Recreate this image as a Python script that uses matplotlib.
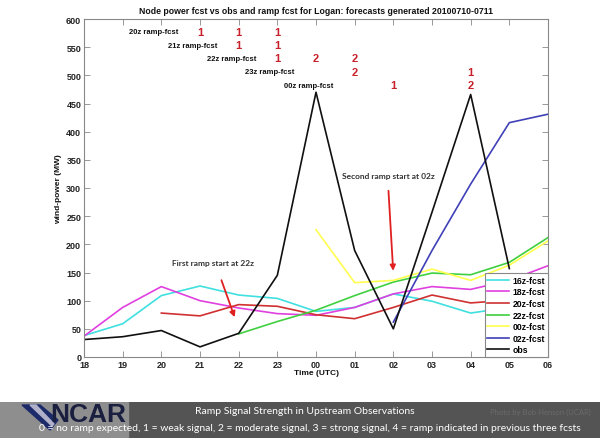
import numpy as np
import matplotlib
matplotlib.use("Agg")
import matplotlib.pyplot as plt
from matplotlib.patches import Rectangle, Polygon

plt.rcParams['font.family'] = ['Liberation Sans', 'DejaVu Sans']

# ---------------- data ----------------
hour_labels = ['18', '19', '20', '21', '22', '23', '00', '01', '02', '03', '04', '05', '06']
hours = np.arange(18, 31)

obs_vals   = [31, 36, 47, 18, 42, 145, 470, 189, 50, 257, 466, 157]                 # 18..05
f16_vals   = [38, 59, 109, 126, 110, 104, 81, 88, 112, 99, 78, 88]                 # 18..05
f18_vals   = [37, 88, 125, 100, 87, 77, 74, 88, 112, 125, 120, 136, 162]           # 18..06
f20_vals   = [78, 73, 93, 90, 75, 68, 88, 110, 96, 101]                            # 20..05
f22_vals   = [41, 63, 83, 109, 133, 149, 146, 168, 212]                            # 22..06
f00_vals   = [226, 132, 136, 156, 136, 163, 206]                                   # 00..06
f02_vals   = [62, 189, 307, 416, 431]                                              # 02..06

series = [
    ('16z-fcst', 18, f16_vals, '#40e0e0'),
    ('18z-fcst', 18, f18_vals, '#e040e0'),
    ('20z-fcst', 20, f20_vals, '#d03030'),
    ('22z-fcst', 22, f22_vals, '#40d040'),
    ('00z-fcst', 24, f00_vals, '#ffff50'),
    ('02z-fcst', 26, f02_vals, '#4040b8'),
    ('obs',      18, obs_vals, '#101010'),
]

ramp_names = ['20z ramp-fcst', '21z ramp-fcst', '22z ramp-fcst', '23z ramp-fcst', '00z ramp-fcst']
ramp_label_x = [20.45, 21.45, 22.45, 23.45, 24.45]
ramp_y = [577, 553, 530, 506, 482]
ramp_hours = [[21, 22, 23], [22, 23], [23, 24, 25], [25, 28], [26, 28]]
ramp_vals = [['1', '1', '1'], ['1', '1'], ['1', '2', '2'], ['2', '1'], ['1', '2']]

# ---------------- figure ----------------
fig = plt.figure(figsize=(6.0, 4.39), dpi=100)
fig.patch.set_facecolor('white')
ax = fig.add_axes([84/600, 1-358/439, 464/600, 338/439])

for name, start, vals, col in series:
    x = np.arange(start, start + len(vals))
    ax.plot(x, vals, color=col, lw=1.2, label=name)

ax.set_xlim(18, 30)
ax.set_ylim(0, 600)
ax.set_xticks(hours)
ax.set_xticklabels(hour_labels)
ax.set_yticks(np.arange(0, 601, 50))
ax.tick_params(direction='in', top=True, right=True, length=4, width=0.6,
               labelsize=6.5, colors='#888888', labelcolor='#222222', pad=2)
for lbl in ax.get_xticklabels() + ax.get_yticklabels():
    lbl.set_fontweight('bold')
for sp in ax.spines.values():
    sp.set_color('#888888')
    sp.set_linewidth(0.8)

ax.set_title('Node power fcst vs obs and ramp fcst for Logan: forecasts generated 20100710-0711',
             fontsize=6.3, fontweight='bold', pad=4, color='#111111')
ax.set_xlabel('Time (UTC)', fontsize=6, fontweight='bold', labelpad=0, color='#111111')
ax.set_ylabel('wind-power (MW)', fontsize=6, fontweight='bold', labelpad=3, color='#111111')

# ramp forecast rows
for name, lx, ly, hs, vs in zip(ramp_names, ramp_label_x, ramp_y, ramp_hours, ramp_vals):
    ax.text(lx, ly, name, fontsize=5.5, fontweight='bold', ha='right', va='center', color='#111111')
    for h, v in zip(hs, vs):
        ax.text(h, ly, v, fontsize=8, fontweight='bold', ha='center', va='center', color='#c8202a')

# annotations
ax.annotate('', xy=(21.92, 66), xytext=(21.53, 141),
            arrowprops=dict(arrowstyle='-|>', color='#e02020', lw=1.3, mutation_scale=8))
ax.text(20.27, 167, 'First ramp start at 22z', fontsize=6, fontweight='bold',
        family=['Lato', 'DejaVu Sans'], color='#333333', ha='left', va='center')
ax.annotate('', xy=(26.0, 148), xytext=(25.87, 300),
            arrowprops=dict(arrowstyle='-|>', color='#e02020', lw=1.3, mutation_scale=8))
ax.text(24.66, 323, 'Second ramp start at 02z', fontsize=6, fontweight='bold',
        family=['Lato', 'DejaVu Sans'], color='#333333', ha='left', va='center')

leg = ax.legend(loc='lower right', borderaxespad=0, frameon=True,
                fancybox=False, framealpha=1, edgecolor='#888888', handlelength=2.6,
                handletextpad=0.4, labelspacing=0.3, borderpad=0.3,
                prop={'weight': 'bold', 'size': 6.2})
leg.get_frame().set_linewidth(0.8)

# ---------------- bottom banner ----------------
bax = fig.add_axes([0, 0, 1, 36/439])
bax.set_xlim(0, 600)
bax.set_ylim(0, 36)
bax.axis('off')
bax.add_patch(Rectangle((0, 0), 600, 36, color='#545454'))
bax.add_patch(Rectangle((0, 0), 128, 36, color='#8e8e8e'))
bax.add_patch(Polygon([[22, 33], [40, 33], [58, 18], [50, 8]], closed=True, color='#1c2a6a'))
bax.add_patch(Polygon([[30, 33], [36, 33], [54, 14], [52, 12]], closed=True, color='#b0b0c8'))
bax.text(88, 24, 'NCAR', fontsize=19, fontweight='bold', color='#1a1f40', ha='center', va='center')
bax.text(305, 27, 'Ramp Signal Strength in Upstream Observations', fontsize=7.5,
         family=['Lato', 'DejaVu Sans'], color='white', ha='center', va='center')
bax.text(540, 27, 'Photo by Bob Henson (UCAR)', fontsize=5.5,
         family=['Lato', 'DejaVu Sans'], color='#6a6a6a', ha='center', va='center')
bax.text(310, 10, '0 = no ramp expected, 1 = weak signal, 2 = moderate signal, 3 = strong signal, '
         '4 = ramp indicated in previous three fcsts', fontsize=7.5,
         family=['Lato', 'DejaVu Sans'], color='white', ha='center', va='center')

fig.savefig('out.png', dpi=100, facecolor='white')
